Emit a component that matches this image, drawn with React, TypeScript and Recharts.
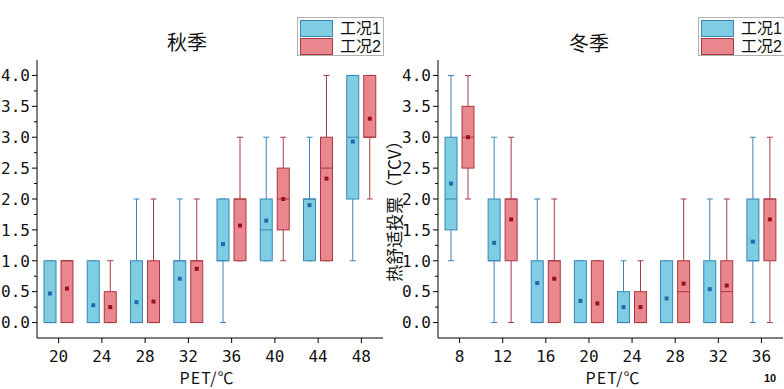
import { ComposedChart, Bar, XAxis, YAxis, Legend } from 'recharts';

// [min, q1, median, q3, max, mean]
type Stats = number[];

const autumnCats = ['20', '24', '28', '32', '36', '40', '44', '48'];
const winterCats = ['8', '12', '16', '20', '24', '28', '32', '36'];

const autumnCase1: Stats[] = [
	[0, 0, 0, 1, 1, 0.47],
	[0, 0, 0, 1, 1, 0.28],
	[0, 0, 0, 1, 2, 0.33],
	[0, 0, 1, 1, 2, 0.71],
	[0, 1, 1, 2, 2, 1.27],
	[1, 1, 1.5, 2, 3, 1.65],
	[1, 1, 2, 2, 3, 1.9],
	[1, 2, 3, 4, 4, 2.93]
];
const autumnCase2: Stats[] = [
	[0, 0, 1, 1, 1, 0.55],
	[0, 0, 0, 0.5, 1, 0.25],
	[0, 0, 0, 1, 2, 0.34],
	[0, 0, 1, 1, 2, 0.87],
	[1, 1, 2, 2, 3, 1.57],
	[1, 1.5, 2, 2.5, 3, 2.0],
	[1, 1, 2.5, 3, 4, 2.33],
	[2, 3, 3, 4, 4, 3.3]
];
const winterCase1: Stats[] = [
	[1, 1.5, 2, 3, 4, 2.25],
	[0, 1, 1, 2, 3, 1.29],
	[0, 0, 0, 1, 2, 0.64],
	[0, 0, 0, 1, 1, 0.35],
	[0, 0, 0, 0.5, 1, 0.25],
	[0, 0, 0, 1, 1, 0.39],
	[0, 0, 0, 1, 2, 0.54],
	[0, 1, 1, 2, 3, 1.31]
];
const winterCase2: Stats[] = [
	[2, 2.5, 3, 3.5, 4, 3.0],
	[0, 1, 2, 2, 3, 1.67],
	[0, 0, 1, 1, 2, 0.71],
	[0, 0, 0, 1, 1, 0.31],
	[0, 0, 0, 0.5, 1, 0.25],
	[0, 0, 0.5, 1, 2, 0.63],
	[0, 0, 0.5, 1, 2, 0.6],
	[0, 1, 2, 2, 3, 1.67]
];

const yTicks = [0, 0.25, 0.5, 0.75, 1, 1.25, 1.5, 1.75, 2, 2.25, 2.5, 2.75, 3, 3.25, 3.5, 3.75, 4];
const seriesNames = ['工况1', '工况2'];

const BLUE = { fill: '#7fcde3', stroke: '#3b84b6', dot: '#1f6aa8' };
const RED = { fill: '#e9868e', stroke: '#a83842', dot: '#9a1020' };

const NUM_FONT = '"DejaVu Sans Mono", monospace';
const CJK_FONT = '"Noto Sans CJK SC", sans-serif';
// latin metrics first so the legend rows keep a compact line box
const LEGEND_FONT = '"Liberation Sans", "Noto Sans CJK SC", sans-serif';

const buildRows = (cats: string[], s1: Stats[], s2: Stats[]) =>
	cats.map((cat, i) => ({ cat, s1: s1[i], s2: s2[i] }));

const makeBoxShape = (key: 's1' | 's2', c: typeof BLUE) => (props: any) => {
	const { x, y, width, height, payload } = props;
	const st: Stats = payload[key];
	const [min, q1, med, q3, max, mean] = st;
	const k = height / (max - min);
	const py = (v: number) => y + (max - v) * k;
	const cx = x + width / 2;
	const cap = 3;
	return (
		<g>
			<line x1={cx} x2={cx} y1={py(max)} y2={py(q3)} stroke={c.stroke} />
			<line x1={cx} x2={cx} y1={py(q1)} y2={py(min)} stroke={c.stroke} />
			<line x1={cx - cap} x2={cx + cap} y1={py(max)} y2={py(max)} stroke={c.stroke} />
			<line x1={cx - cap} x2={cx + cap} y1={py(min)} y2={py(min)} stroke={c.stroke} />
			<rect x={x} y={py(q3)} width={width} height={py(q1) - py(q3)} fill={c.fill} stroke={c.stroke} />
			<line x1={x} x2={x + width} y1={py(med)} y2={py(med)} stroke={c.stroke} />
			<rect x={cx - 2} y={py(mean) - 2} width={4} height={4} fill={c.dot} />
		</g>
	);
};

const YTick = (props: any) => {
	const { x, y, payload } = props;
	const v = payload.value;
	const major = Math.abs(v * 2 - Math.round(v * 2)) < 1e-6;
	return (
		<g>
			<line x1={x} x2={x - (major ? 5 : 3)} y1={y} y2={y} stroke="#000" />
			{major && (
				<text x={x - 7} y={y} dy="0.36em" textAnchor="end" fontFamily={NUM_FONT} fontSize={16} fill="#111">
					{v.toFixed(1)}
				</text>
			)}
		</g>
	);
};

const LegendBox = () => (
	<div style={{ width: 85, height: 37, border: '1px solid #b0b0b0', background: '#fff', position: 'relative' }}>
		{[BLUE, RED].map((c, i) => (
			<div key={i} style={{ position: 'absolute', left: 2, top: 2 + i * 18, height: 17, display: 'flex', alignItems: 'center' }}>
				<div style={{ width: 31, height: 15, background: c.fill, border: `1px solid ${c.stroke}` }} />
				<span style={{ marginLeft: 7, fontFamily: LEGEND_FONT, fontSize: 16, lineHeight: '17px', color: '#111' }}>
					{seriesNames[i]}
				</span>
			</div>
		))}
	</div>
);

interface PanelProps {
	rows: { cat: string; s1: Stats; s2: Stats }[];
	width: number;
	yWidth: number;
	rightGap: number;
	legendLeft: number;
}

const Panel = ({ rows, width, yWidth, rightGap, legendLeft }: PanelProps) => (
	<ComposedChart
		width={width}
		height={389}
		data={rows}
		margin={{ top: 60, right: rightGap, bottom: 21, left: 0 }}
		barSize={12}
		barGap={5}
		barCategoryGap={0}
	>
		<XAxis
			dataKey="cat"
			interval={0}
			height={30}
			axisLine={{ stroke: '#000' }}
			tickLine={{ stroke: '#000' }}
			tickSize={5}
			tickMargin={8}
			tick={{ fontFamily: NUM_FONT, fontSize: 16, fill: '#111' }}
		/>
		<XAxis xAxisId="top" dataKey="cat" orientation="top" height={0} tick={false} tickLine={false} axisLine={{ stroke: '#000' }} />
		<YAxis
			type="number"
			domain={[-0.25, 4.25]}
			ticks={yTicks}
			interval={0}
			width={yWidth}
			axisLine={{ stroke: '#000' }}
			tickLine={false}
			tickSize={0}
			tickMargin={0}
			tick={<YTick />}
		/>
		<YAxis yAxisId="right" orientation="right" type="number" domain={[-0.25, 4.25]} width={0} tick={false} tickLine={false} axisLine={{ stroke: '#000' }} />
		<Legend
			layout="horizontal"
			verticalAlign="middle"
			align="center"
			wrapperStyle={{ position: 'absolute', left: legendLeft, top: 17, width: 'auto', height: 'auto' }}
			content={() => <LegendBox />}
		/>
		<Bar
			name={seriesNames[0]}
			dataKey={(d: any) => [d.s1[0], d.s1[4]]}
			shape={makeBoxShape('s1', BLUE)}
			isAnimationActive={false}
		/>
		<Bar
			name={seriesNames[1]}
			dataKey={(d: any) => [d.s2[0], d.s2[4]]}
			shape={makeBoxShape('s2', RED)}
			isAnimationActive={false}
		/>
	</ComposedChart>
);

const textAbs = (left: number, top: number): React.CSSProperties => ({
	position: 'absolute',
	left,
	top,
	transform: 'translate(-50%, -50%)',
	whiteSpace: 'nowrap',
	color: '#111'
});

export default function App() {
	const autumnRows = buildRows(autumnCats, autumnCase1, autumnCase2);
	const winterRows = buildRows(winterCats, winterCase1, winterCase2);

	return (
		<div style={{ position: 'absolute', left: 0, top: 0, width: 784, height: 389, background: '#fff', overflow: 'hidden' }}>
			<div style={{ position: 'absolute', left: 0, top: 0 }}>
				<Panel rows={autumnRows} width={392} yWidth={37} rightGap={9} legendLeft={297} />
			</div>
			<div style={{ position: 'absolute', left: 384, top: 0 }}>
				<Panel rows={winterRows} width={400} yWidth={54} rightGap={1} legendLeft={314} />
			</div>

			<div style={{ ...textAbs(187, 41), fontFamily: CJK_FONT, fontSize: 20 }}>秋季</div>
			<div style={{ ...textAbs(589, 42), fontFamily: CJK_FONT, fontSize: 20 }}>冬季</div>

			<div style={{ ...textAbs(207, 377), fontFamily: CJK_FONT, fontSize: 16, letterSpacing: 1 }}>PET/℃</div>
			<div style={{ ...textAbs(613, 377), fontFamily: CJK_FONT, fontSize: 16, letterSpacing: 1 }}>PET/℃</div>

			<div style={{ ...textAbs(393, 207), transform: 'translate(-50%, -50%) rotate(-90deg)', fontFamily: CJK_FONT, fontSize: 17 }}>
				热舒适投票（TCV）
			</div>

			<div style={{ ...textAbs(770, 378), fontFamily: '"Liberation Sans", sans-serif', fontSize: 11, fontWeight: 700 }}>10</div>
		</div>
	);
}
